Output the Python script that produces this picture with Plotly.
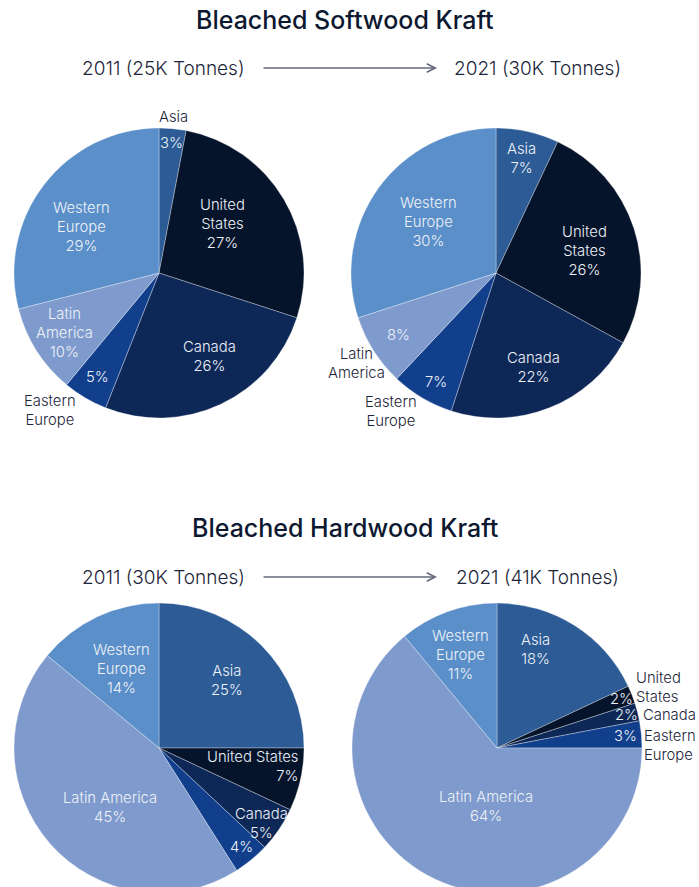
import math
import plotly.graph_objects as go

# ---- data -------------------------------------------------------------
regions = ["Asia", "United States", "Canada", "Eastern Europe", "Latin America", "Western Europe"]
softwood_2011 = [3, 27, 26, 5, 10, 29]
softwood_2021 = [7, 26, 22, 7, 8, 30]
hardwood_2011 = [25, 7, 5, 4, 45, 14]
hardwood_2021 = [18, 2, 2, 3, 64, 11]

titles = ["Bleached Softwood Kraft", "Bleached Hardwood Kraft"]
subtitles = [("2011 (25K Tonnes)", "2021 (30K Tonnes)"),
             ("2011 (30K Tonnes)", "2021 (41K Tonnes)")]

colors = ["#2c5b96", "#06142b", "#0d2757", "#113f8c", "#7f9bcd", "#5b8fc9"]

# ---- layout constants (pixels) ----------------------------------------
W, H = 699, 895
R = 145
FONT = "Inter"
LIGHT = "#eef2f8"
DARK = "#1c2539"

two_line = {"United States": "United<br>States", "Western Europe": "Western<br>Europe",
            "Latin America": "Latin<br>America", "Eastern Europe": "Eastern<br>Europe"}


def name_of(i, wrap=True):
    n = regions[i]
    return two_line.get(n, n) if wrap else n


# label spec: (slice index, content, radial fraction, angle shift, color, xanchor)
# content: "np" wrapped name + pct, "nl_p" one-line name + pct, "p" pct only, "n" name only
pies = [
    dict(values=softwood_2011, cx=159, cy=273, labels=[
        (0, "p", 0.90, 0, LIGHT, "center"), (0, "n", 1.08, 0, DARK, "center"),
        (1, "np", 0.55, -7, LIGHT, "center"),
        (2, "nl_p", 0.67, -6, LIGHT, "center"),
        (3, "p", 0.83, 0, LIGHT, "center"), (3, "n", 1.21, 8, DARK, "center"),
        (4, "np", 0.77, 0, LIGHT, "center"),
        (5, "np", 0.62, -7, LIGHT, "center"),
    ]),
    dict(values=softwood_2021, cx=496, cy=273, labels=[
        (0, "nl_p", 0.81, 0, LIGHT, "center"),
        (1, "np", 0.63, 4, LIGHT, "center"),
        (2, "nl_p", 0.70, 0, LIGHT, "center"),
        (3, "p", 0.86, -2, LIGHT, "center"), (3, "n", 1.20, 6.7, DARK, "center"),
        (4, "p", 0.80, 0, LIGHT, "center"), (4, "n", 1.15, -0.6, DARK, "center"),
        (5, "np", 0.58, 1, LIGHT, "center"),
    ]),
    dict(values=hardwood_2011, cx=159, cy=748, labels=[
        (0, "nl_p", 0.66, 0, LIGHT, "center"),
        (1, "nl_p", 0.98, -5.3, LIGHT, "right"),
        (2, "nl_p", 0.88, 2.2, LIGHT, "center"),
        (3, "p", 0.89, 0, LIGHT, "center"),
        (4, "nl_p", 0.53, -9, LIGHT, "center"),
        (5, "np", 0.60, 0, LIGHT, "center"),
    ]),
    dict(values=hardwood_2021, cx=497, cy=748, labels=[
        (0, "nl_p", 0.73, -11, LIGHT, "center"),
        (1, "p", 0.92, 0, LIGHT, "center"), (1, "n", 1.03, -2.2, DARK, "left"),
        (2, "p", 0.92, 0, LIGHT, "center"), (2, "n", 1.02, 1.6, DARK, "left"),
        (3, "p", 0.89, 0, LIGHT, "center"), (3, "n", 1.00, 4.4, DARK, "left"),
        (4, "nl_p", 0.41, -14.6, LIGHT, "center"),
        (5, "np", 0.69, -1.4, LIGHT, "center"),
    ]),
]


def px(x):
    return x / W


def py(y):
    return (H - y) / H


fig = go.Figure()
annotations = []

for pie in pies:
    vals, cx, cy = pie["values"], pie["cx"], pie["cy"]
    fig.add_trace(go.Pie(
        labels=regions, values=vals, sort=False, direction="clockwise", rotation=0,
        marker=dict(colors=colors, line=dict(color="rgba(255,255,255,0.45)", width=0.7)),
        textinfo="none", hoverinfo="label+percent", showlegend=False,
        domain=dict(x=[px(cx - R), px(cx + R)], y=[py(cy + R), py(cy - R)]),
    ))

    total = sum(vals)
    cum = [sum(vals[:i]) for i in range(len(vals))]
    for idx, content, frac, shift, col, anchor in pie["labels"]:
        mid = (cum[idx] + vals[idx] / 2) / total * 360 + shift
        d = frac * R
        x = cx + d * math.sin(math.radians(mid))
        y = cy - d * math.cos(math.radians(mid))
        pct = f"{round(vals[idx] / total * 100)}%"
        if content == "p":
            text = pct
        elif content == "n":
            text = name_of(idx)
        elif content == "np":
            text = f"{name_of(idx)}<br>{pct}"
        else:  # name on one line, pct below
            text = f"{name_of(idx, wrap=False)}<br>{pct}"
        annotations.append(dict(
            x=px(x), y=py(y), xref="paper", yref="paper", text=text, showarrow=False,
            xanchor=anchor, yanchor="middle", align=anchor,
            font=dict(family=FONT, size=14.8, color=col, weight=300),
        ))

# titles, subtitles and arrows
for k, (title, (left, right)) in enumerate(zip(titles, subtitles)):
    ty = 20 + k * 508
    sy = 68 + k * 509
    annotations.append(dict(x=px(345), y=py(ty), xref="paper", yref="paper", text=title,
                            showarrow=False, xanchor="center", yanchor="middle",
                            font=dict(family=FONT, size=25, color="#0c1830", weight=500)))
    annotations.append(dict(x=px(163), y=py(sy), xref="paper", yref="paper", text=left,
                            showarrow=False, xanchor="center", yanchor="middle",
                            font=dict(family=FONT, size=19, color=DARK, weight=300)))
    annotations.append(dict(x=px(537), y=py(sy), xref="paper", yref="paper", text=right,
                            showarrow=False, xanchor="center", yanchor="middle",
                            font=dict(family=FONT, size=19, color=DARK, weight=300)))
    annotations.append(dict(x=px(437), y=py(sy), xref="paper", yref="paper", text="",
                            showarrow=True, axref="pixel", ayref="pixel", ax=-175, ay=0,
                            arrowhead=5, arrowsize=1.1, arrowwidth=1.5, arrowcolor="#656b7d",
                            standoff=0, startstandoff=0))

fig.update_layout(
    width=W, height=H, margin=dict(l=0, r=0, t=0, b=0),
    paper_bgcolor="white", plot_bgcolor="white",
    annotations=annotations,
)

fig.write_html("out.html", post_script=(
    "document.documentElement.style.overflow='hidden';"
    "document.body.style.overflow='hidden';document.body.style.margin='0';"))
